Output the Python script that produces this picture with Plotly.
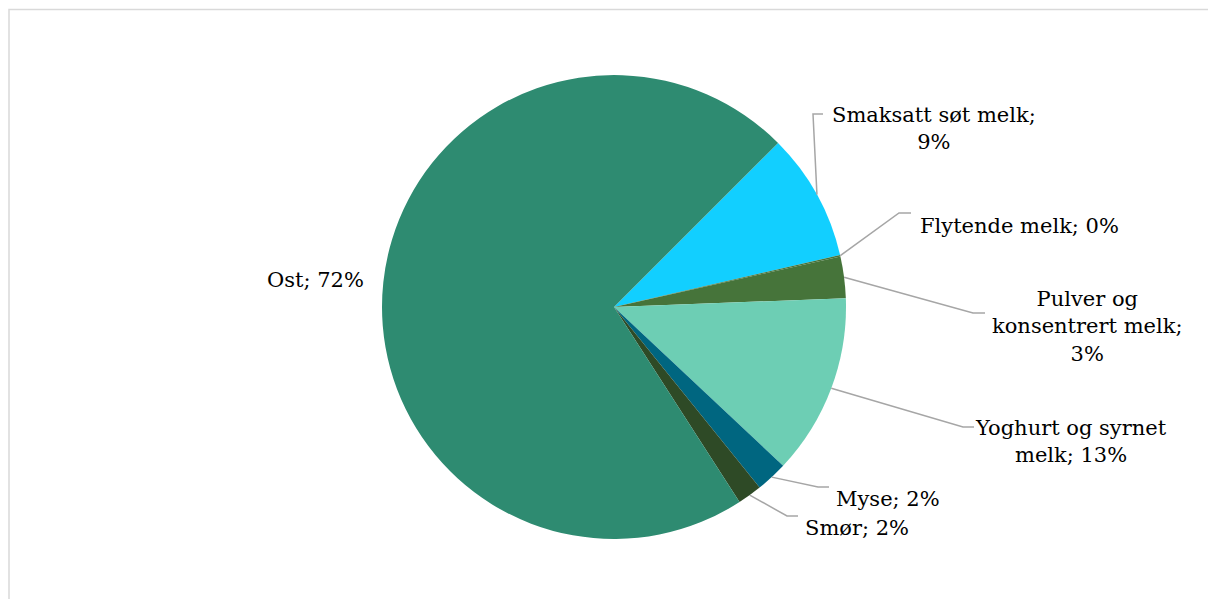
import math
import plotly.graph_objects as go

# Melkeråvare fordelt på produktgrupper
categories = [
    "Smaksatt søt melk",
    "Flytende melk",
    "Pulver og konsentrert melk",
    "Yoghurt og syrnet melk",
    "Myse",
    "Smør",
    "Ost",
]
shares = [8.9, 0.1, 2.9, 12.6, 2.2, 1.7, 71.6]
colors = ["#12CFFF", "#46743A", "#46743A", "#6DCEB4", "#006680", "#2E4A26", "#2E8B71"]

# Label text, with manual line breaks as in the chart
label_lines = {
    "Smaksatt søt melk": "Smaksatt søt melk;<br>{p}",
    "Flytende melk": "Flytende melk; {p}",
    "Pulver og konsentrert melk": "Pulver og<br>konsentrert melk;<br>{p}",
    "Yoghurt og syrnet melk": "Yoghurt og syrnet<br>melk; {p}",
    "Myse": "Myse; {p}",
    "Smør": "Smør; {p}",
    "Ost": "Ost; {p}",
}

W, H = 1208, 599
CX, CY, R = 614, 307, 232
START = 45  # degrees clockwise from 12 o'clock

# Label placement (pixel centre of text, elbow of leader line, end of leader line)
label_layout = {
    "Smaksatt søt melk": dict(text=(934, 128), elbow=(813, 114), end=(823, 114)),
    "Flytende melk": dict(text=(1019, 226), elbow=(899, 213), end=(911, 213)),
    "Pulver og konsentrert melk": dict(text=(1087, 326), elbow=(973, 313), end=(985, 313)),
    "Yoghurt og syrnet melk": dict(text=(1071, 441), elbow=(963, 427), end=(974, 427)),
    "Myse": dict(text=(888, 499), elbow=(818, 487), end=(829, 487)),
    "Smør": dict(text=(857, 528), elbow=(787, 516), end=(798, 516)),
    "Ost": dict(text=(315, 280), elbow=None, end=None),
}


def px(x):
    return x / W


def py(y):
    return 1 - y / H


fig = go.Figure()
fig.add_trace(go.Pie(
    labels=categories,
    values=shares,
    sort=False,
    direction="clockwise",
    rotation=START,
    marker=dict(colors=colors, line=dict(width=0)),
    textinfo="none",
    hoverinfo="label+percent",
    showlegend=False,
    domain=dict(x=[px(CX - R), px(CX + R)], y=[py(CY + R), py(CY - R)]),
))

total = sum(shares)
annotations = []
shapes = []
cum = 0.0
font = dict(family="DejaVu Serif, Georgia, serif", size=21, color="#000000")
for name, val in zip(categories, shares):
    mid = START + (cum + val / 2) / total * 360
    cum += val
    pct = f"{round(val / total * 100)}%"
    lay = label_layout[name]
    tx, ty = lay["text"]
    annotations.append(dict(
        x=px(tx), y=py(ty), xref="paper", yref="paper",
        text=label_lines[name].format(p=pct), showarrow=False,
        xanchor="center", yanchor="middle", align="center", font=font,
    ))
    if lay["elbow"] is not None:
        ax = CX + R * math.sin(math.radians(mid))
        ay = CY - R * math.cos(math.radians(mid))
        ex, ey = lay["elbow"]
        fx, fy = lay["end"]
        shapes.append(dict(
            type="path", xref="paper", yref="paper",
            path=f"M {px(ax)} {py(ay)} L {px(ex)} {py(ey)} L {px(fx)} {py(fy)}",
            line=dict(color="#A6A6A6", width=1.5),
        ))

# Chart area frame
shapes.append(dict(
    type="rect", xref="paper", yref="paper",
    x0=px(9), y0=py(H + 20), x1=px(W + 20), y1=py(9.5),
    line=dict(color="#D9D9D9", width=1.5), fillcolor="rgba(0,0,0,0)", layer="below",
))

fig.update_layout(
    width=W, height=H,
    margin=dict(l=0, r=0, t=0, b=0),
    paper_bgcolor="#FFFFFF",
    plot_bgcolor="#FFFFFF",
    annotations=annotations,
    shapes=shapes,
)

fig.write_html("out.html")
